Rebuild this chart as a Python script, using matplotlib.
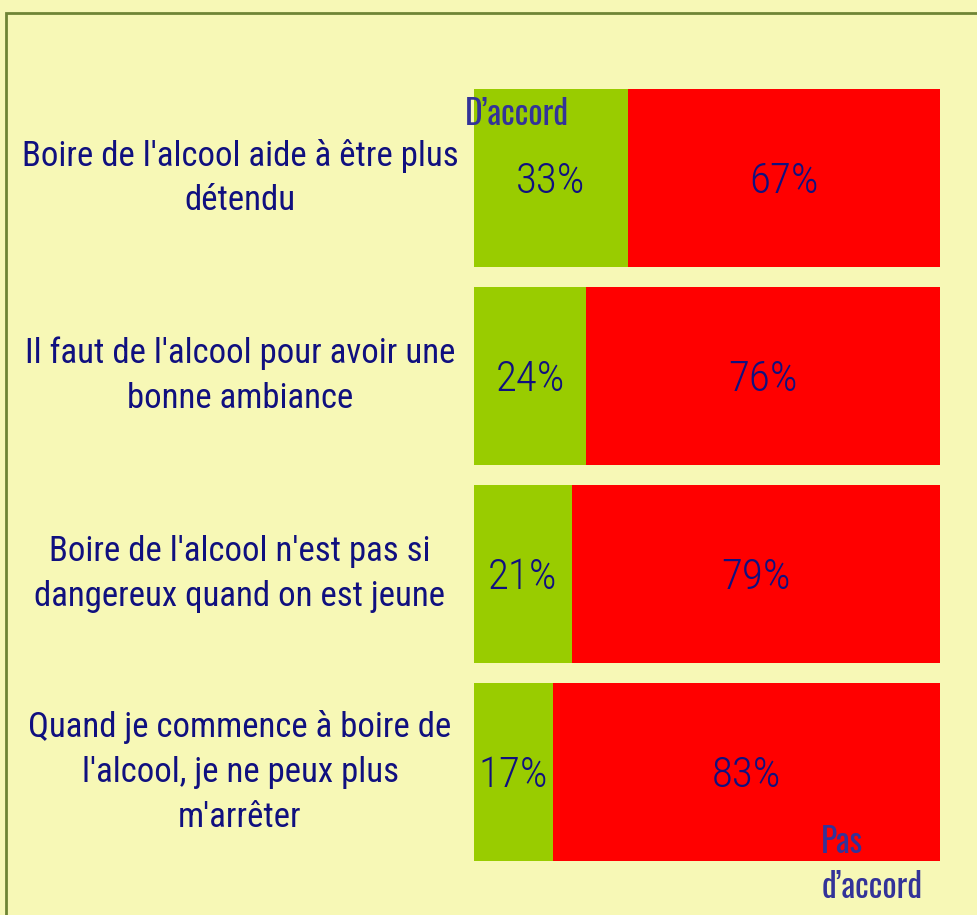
import matplotlib
matplotlib.use("Agg")
import matplotlib.pyplot as plt
from matplotlib.patches import Rectangle

# --- data ---
questions = [
    "Boire de l'alcool aide à être plus\ndétendu",
    "Il faut de l'alcool pour avoir une\nbonne ambiance",
    "Boire de l'alcool n'est pas si\ndangereux quand on est jeune",
    "Quand je commence à boire de\nl'alcool, je ne peux plus\nm'arrêter",
]
agree = [33, 24, 21, 17]
disagree = [67, 76, 79, 83]

BG = "#F7F8B6"
GREEN = "#99CC00"
RED = "#FF0000"
NAVY = "#10107F"
LEGEND = "#333399"
FONT = ["Roboto Condensed", "DejaVu Sans"]
LEGEND_FONT = ["Oswald", "Roboto Condensed", "DejaVu Sans"]

W, H = 978, 915
fig = plt.figure(figsize=(W / 100, H / 100), dpi=100, facecolor=BG)

# frame around the chart (runs off right and bottom edges)
fig.patches.append(Rectangle((6 / W, -0.1), 1.2, (H - 13) / H + 0.1,
                             transform=fig.transFigure, fill=False,
                             edgecolor="#6F8535", linewidth=2))

# bar area in pixels: x 474..940, y 89..861
ax = fig.add_axes([474 / W, (H - 861) / H, 466 / W, 772 / H])
ax.set_facecolor("none")
half = 0.4495
ypos = list(range(len(questions)))
ax.barh(ypos, agree, height=2 * half, color=GREEN)
ax.barh(ypos, disagree, left=agree, height=2 * half, color=RED)
ax.set_xlim(0, 100)
ax.set_ylim(len(questions) - 1 + half, -half)
ax.axis("off")

px = 2 * half / 178  # data units per pixel (vertical)
for y, a, d in zip(ypos, agree, disagree):
    ax.text(a / 2, y + 15 * px, f"{a}%", ha="center", va="baseline",
            fontsize=31, fontweight="light", color=NAVY, family=FONT)
    ax.text(a + d / 2, y + 15 * px, f"{d}%", ha="center", va="baseline",
            fontsize=31, fontweight="light", color=NAVY, family=FONT)
    # question label, centred around x ~ 240 px
    ax.text((240 - 474) / 466 * 100, y, questions[y], ha="center",
            va="center", fontsize=25, color=NAVY, family=FONT,
            linespacing=1.45, multialignment="center")

ax.text(-1.9, -half + 36 * px, "D’accord", ha="left", va="baseline",
        fontsize=24, color=LEGEND, family=LEGEND_FONT)
ax.text(74.5, -half + 764 * px, "Pas", ha="left", va="baseline",
        fontsize=24, color=LEGEND, family=LEGEND_FONT, clip_on=False)
ax.text(74.5, -half + 809 * px, "d’accord", ha="left", va="baseline",
        fontsize=24, color=LEGEND, family=LEGEND_FONT, clip_on=False)

fig.savefig("out.png", dpi=100, facecolor=BG)
